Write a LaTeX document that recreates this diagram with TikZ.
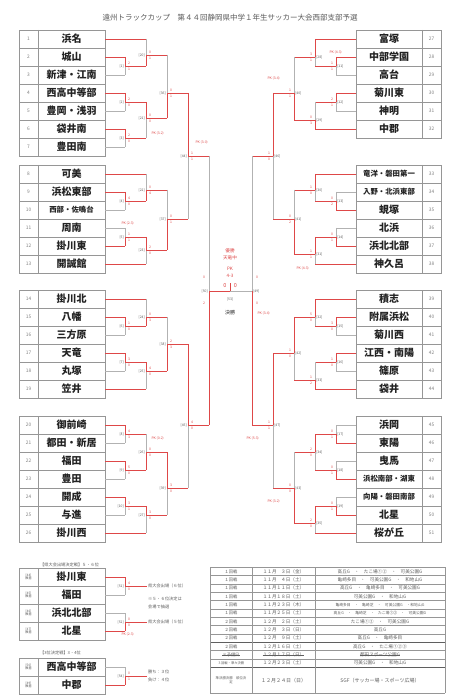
\documentclass[tikz,border=0pt]{standalone}
\usepackage{fontspec}
\setmainfont{Noto Sans CJK JP}
\definecolor{rd}{RGB}{222,72,72}
\definecolor{gy}{RGB}{178,178,178}
\definecolor{bd}{RGB}{150,150,150}
\definecolor{tx}{RGB}{35,35,35}
\definecolor{lb}{RGB}{90,90,90}
\definecolor{nm}{RGB}{130,130,130}
\definecolor{st}{RGB}{95,95,95}
\tikzset{
  rl/.style={draw=rd,line width=0.85pt},
  gl/.style={draw=gy,line width=0.85pt},
  bx/.style={draw=bd,line width=0.6pt},
  bxk/.style={draw=st,line width=1pt},
  lab/.style={font=\fontsize{3.4}{3.6}\selectfont,text=lb,inner sep=0.3pt},
  sc/.style={font=\fontsize{3.4}{3.6}\selectfont,text=rd,inner sep=0.3pt},
  team/.style={font=\fontsize{10}{11}\selectfont\bfseries,text=tx,inner sep=0pt},
  steam/.style={font=\fontsize{7.4}{8}\selectfont\bfseries,text=tx,inner sep=0pt},
  num/.style={font=\fontsize{4.8}{5}\selectfont,text=nm,inner sep=0pt},
  sml/.style={font=\fontsize{4.2}{5}\selectfont,text=st,inner sep=0pt},
  sch/.style={font=\fontsize{4.6}{5}\selectfont,text=st,inner sep=0pt},
  schs/.style={font=\fontsize{3.8}{4.2}\selectfont,text=st,inner sep=0pt},
  schA/.style={font=\fontsize{4.2}{5}\selectfont,text=st,inner sep=0pt},
  schB/.style={font=\fontsize{3.3}{4}\selectfont,text=st,inner sep=0pt},
  fin/.style={font=\fontsize{4.6}{5.2}\selectfont,text=rd,inner sep=0pt},
}
% left match: num, x, ytop, ybot, yexit, xnext, winner(t/b), score top, score bottom
\newcommand\LM[9]{%
  \coordinate (m#1t) at (#2,#3);
  \coordinate (m#1b) at (#2,#4);
  \coordinate (m#1) at (#2,#5);
  \coordinate (m#1n) at (#6,#5);
  \if#7t\draw[gl] (m#1) -- (m#1b); \draw[rl] (m#1t) -- (m#1);
  \else\draw[gl] (m#1t) -- (m#1); \draw[rl] (m#1) -- (m#1b);\fi
  \draw[rl] (m#1) -- (m#1n);
  \node[lab,anchor=east] (l#1) at ([xshift=-0.8pt]m#1) {[#1]};
  \node[sc,anchor=south west] (sa#1) at ([xshift=2.5pt,yshift=1.2pt]m#1) {#8};
  \node[sc,anchor=north west] (sb#1) at ([xshift=2.5pt,yshift=-1.4pt]m#1) {#9};
}
\newcommand\RM[9]{%
  \coordinate (m#1t) at (#2,#3);
  \coordinate (m#1b) at (#2,#4);
  \coordinate (m#1) at (#2,#5);
  \coordinate (m#1n) at (#6,#5);
  \if#7t\draw[gl] (m#1) -- (m#1b); \draw[rl] (m#1t) -- (m#1);
  \else\draw[gl] (m#1t) -- (m#1); \draw[rl] (m#1) -- (m#1b);\fi
  \draw[rl] (m#1) -- (m#1n);
  \node[lab,anchor=west] (l#1) at ([xshift=0.8pt]m#1) {[#1]};
  \node[sc,anchor=south east] (sa#1) at ([xshift=-2.5pt,yshift=1.2pt]m#1) {#8};
  \node[sc,anchor=north east] (sb#1) at ([xshift=-2.5pt,yshift=-1.4pt]m#1) {#9};
}
% team rows
\newcommand\TeamL[4]{%
  \node[#4] (t#1) at (71.5,#3) {#2};
  \node[num] (n#1) at (28.5,#3) {#1};
  \coordinate (p#1) at (105,#3);
}
\newcommand\TeamR[4]{%
  \node[#4] (t#1) at (389,#3) {#2};
  \node[num] (n#1) at (431.5,#3) {#1};
  \coordinate (p#1) at (356,#3);
}
\newcommand\TabL[2]{%
  \draw[bx] (19,#1) rectangle (105,{#1+18*#2});
  \draw[bx] (38,#1) -- (38,{#1+18*#2});
  \foreach \i in {1,...,#2} {\draw[bx] (19,{#1+18*\i}) -- (105,{#1+18*\i});}
}
\newcommand\TabR[2]{%
  \draw[bx] (356,#1) rectangle (441,{#1+18*#2});
  \draw[bx] (422,#1) -- (422,{#1+18*#2});
  \foreach \i in {1,...,#2} {\draw[bx] (356,{#1+18*\i}) -- (441,{#1+18*\i});}
}
\newcommand\PK[3]{\node[sc,anchor=west] (pk#1) at (#2,#3) {PK (#1)};}
\begin{document}
\begin{tikzpicture}[x=1pt,y=-1pt]
\useasboundingbox[fill=white] (0,0) rectangle (461,700);
\node[font=\fontsize{7.5}{8}\selectfont,text=lb] (title) at (230,18) {遠州トラックカップ　第４４回静岡県中学１年生サッカー大会西部支部予選};

% ---------- tables ----------
\TabL{30}{7}\TabL{165}{6}\TabL{290}{6}\TabL{416}{7}
\TabR{30}{6}\TabR{165}{6}\TabR{290}{6}\TabR{416}{7}

\TeamL{1}{浜名}{39}{team}
\TeamL{2}{城山}{57}{team}
\TeamL{3}{新津・江南}{75}{team}
\TeamL{4}{西高中等部}{93}{team}
\TeamL{5}{豊岡・浅羽}{111}{team}
\TeamL{6}{袋井南}{129}{team}
\TeamL{7}{豊田南}{147}{team}
\TeamL{8}{可美}{174}{team}
\TeamL{9}{浜松東部}{192}{team}
\TeamL{10}{西部・佐鳴台}{210}{steam}
\TeamL{11}{周南}{228}{team}
\TeamL{12}{掛川東}{246}{team}
\TeamL{13}{開誠館}{264}{team}
\TeamL{14}{掛川北}{299}{team}
\TeamL{15}{八幡}{317}{team}
\TeamL{16}{三方原}{335}{team}
\TeamL{17}{天竜}{353}{team}
\TeamL{18}{丸塚}{371}{team}
\TeamL{19}{笠井}{389}{team}
\TeamL{20}{御前崎}{425}{team}
\TeamL{21}{都田・新居}{443}{team}
\TeamL{22}{福田}{461}{team}
\TeamL{23}{豊田}{479}{team}
\TeamL{24}{開成}{497}{team}
\TeamL{25}{与進}{515}{team}
\TeamL{26}{掛川西}{533}{team}
\TeamR{27}{富塚}{39}{team}
\TeamR{28}{中部学園}{57}{team}
\TeamR{29}{高台}{75}{team}
\TeamR{30}{菊川東}{93}{team}
\TeamR{31}{神明}{111}{team}
\TeamR{32}{中郡}{129}{team}
\TeamR{33}{竜洋・磐田第一}{174}{steam}
\TeamR{34}{入野・北浜東部}{192}{steam}
\TeamR{35}{蜆塚}{210}{team}
\TeamR{36}{北浜}{228}{team}
\TeamR{37}{浜北北部}{246}{team}
\TeamR{38}{神久呂}{264}{team}
\TeamR{39}{積志}{299}{team}
\TeamR{40}{附属浜松}{317}{team}
\TeamR{41}{菊川西}{335}{team}
\TeamR{42}{江西・南陽}{353}{team}
\TeamR{43}{篠原}{371}{team}
\TeamR{44}{袋井}{389}{team}
\TeamR{45}{浜岡}{425}{team}
\TeamR{46}{東陽}{443}{team}
\TeamR{47}{曳馬}{461}{team}
\TeamR{48}{浜松南部・湖東}{479}{steam}
\TeamR{49}{向陽・磐田南部}{497}{steam}
\TeamR{50}{北星}{515}{team}
\TeamR{51}{桜が丘}{533}{team}

% ---------- left bracket ----------
\LM{1}{125}{57}{75}{66}{146}{t}{2}{1}
\LM{2}{125}{93}{111}{102}{146}{t}{2}{0}
\LM{3}{125}{129}{147}{138}{146}{t}{2}{0}
\LM{20}{146}{39}{66}{55}{167}{b}{0}{1}
\LM{21}{146}{102}{138}{118}{167}{t}{0}{0}
\LM{36}{167}{55}{118}{93}{188}{b}{0}{1}
\LM{4}{125}{192}{210}{201}{146}{t}{4}{0}
\LM{5}{125}{228}{246}{237}{146}{b}{1}{1}
\LM{22}{146}{174}{201}{190}{167}{b}{0}{4}
\LM{23}{146}{237}{264}{250}{167}{t}{2}{0}
\LM{37}{167}{190}{250}{219}{188}{b}{0}{1}
\LM{44}{188}{93}{219}{156}{209}{t}{1}{1}
\LM{6}{125}{317}{335}{326}{146}{t}{1}{0}
\LM{7}{125}{353}{371}{362}{146}{t}{3}{0}
\LM{24}{146}{299}{326}{317}{167}{b}{0}{3}
\LM{25}{146}{362}{389}{371}{167}{t}{4}{0}
\LM{38}{167}{317}{371}{344}{188}{b}{2}{3}
\LM{8}{125}{425}{443}{434}{146}{t}{4}{3}
\LM{9}{125}{461}{479}{470}{146}{t}{5}{0}
\LM{10}{125}{497}{515}{506}{146}{t}{3}{1}
\LM{26}{146}{434}{470}{452}{167}{b}{0}{0}
\LM{27}{146}{506}{533}{515}{167}{t}{3}{0}
\LM{39}{167}{452}{515}{488}{188}{t}{3}{0}
\LM{45}{188}{344}{488}{425}{209}{t}{4}{0}

% team lines left
\draw[rl] (p1) -- (m20t);
\draw[rl] (p2) -- (m1t);  \draw[gl] (p3) -- (m1b);
\draw[rl] (p4) -- (m2t);  \draw[gl] (p5) -- (m2b);
\draw[rl] (p6) -- (m3t);  \draw[gl] (p7) -- (m3b);
\draw[rl] (p8) -- (m22t);
\draw[rl] (p9) -- (m4t);  \draw[gl] (p10) -- (m4b);
\draw[gl] (p11) -- (m5t); \draw[rl] (p12) -- (m5b);
\draw[rl] (p13) -- (m23b);
\draw[rl] (p14) -- (m24t);
\draw[rl] (p15) -- (m6t); \draw[gl] (p16) -- (m6b);
\draw[rl] (p17) -- (m7t); \draw[gl] (p18) -- (m7b);
\draw[rl] (p19) -- (m25b);
\draw[rl] (p20) -- (m8t); \draw[gl] (p21) -- (m8b);
\draw[rl] (p22) -- (m9t); \draw[gl] (p23) -- (m9b);
\draw[rl] (p24) -- (m10t); \draw[gl] (p25) -- (m10b);
\draw[rl] (p26) -- (m27b);

% ---------- right bracket ----------
\RM{11}{336}{57}{75}{66}{315}{t}{1}{1}
\RM{12}{336}{93}{111}{102}{315}{t}{2}{1}
\RM{28}{315}{39}{66}{57}{294}{t}{3}{1}
\RM{29}{315}{102}{129}{120}{294}{b}{0}{3}
\RM{40}{294}{57}{120}{93}{273}{b}{1}{1}
\RM{13}{336}{192}{210}{201}{315}{b}{0}{2}
\RM{14}{336}{228}{246}{237}{315}{b}{0}{1}
\RM{30}{315}{174}{201}{190}{294}{t}{1}{0}
\RM{31}{315}{237}{264}{254}{294}{t}{1}{1}
\RM{41}{294}{190}{254}{219}{273}{b}{0}{2}
\RM{46}{273}{93}{219}{156}{252}{t}{1}{0}
\RM{15}{336}{317}{335}{326}{315}{t}{3}{0}
\RM{16}{336}{353}{371}{362}{315}{t}{1}{0}
\RM{32}{315}{299}{326}{317}{294}{t}{5}{0}
\RM{33}{315}{362}{389}{380}{294}{b}{1}{2}
\RM{42}{294}{317}{380}{353}{273}{t}{1}{0}
\RM{17}{336}{425}{443}{434}{315}{b}{0}{1}
\RM{18}{336}{461}{479}{470}{315}{b}{0}{1}
\RM{19}{336}{497}{515}{506}{315}{b}{0}{1}
\RM{34}{315}{434}{470}{452}{294}{t}{2}{0}
\RM{35}{315}{506}{533}{523}{294}{t}{2}{0}
\RM{43}{294}{452}{523}{488}{273}{b}{0}{0}
\RM{47}{273}{353}{488}{425}{252}{t}{1}{1}

% team lines right
\draw[rl] (p27) -- (m28t);
\draw[rl] (p28) -- (m11t); \draw[gl] (p29) -- (m11b);
\draw[rl] (p30) -- (m12t); \draw[gl] (p31) -- (m12b);
\draw[rl] (p32) -- (m29b);
\draw[rl] (p33) -- (m30t);
\draw[gl] (p34) -- (m13t); \draw[rl] (p35) -- (m13b);
\draw[gl] (p36) -- (m14t); \draw[rl] (p37) -- (m14b);
\draw[rl] (p38) -- (m31b);
\draw[rl] (p39) -- (m32t);
\draw[rl] (p40) -- (m15t); \draw[gl] (p41) -- (m15b);
\draw[rl] (p42) -- (m16t); \draw[gl] (p43) -- (m16b);
\draw[rl] (p44) -- (m33b);
\draw[gl] (p45) -- (m17t); \draw[rl] (p46) -- (m17b);
\draw[gl] (p47) -- (m18t); \draw[rl] (p48) -- (m18b);
\draw[gl] (p49) -- (m19t); \draw[rl] (p50) -- (m19b);
\draw[rl] (p51) -- (m35b);

% PK notes
\PK{3-2}{151}{133}
\PK{3-0}{195}{142}
\PK{2-3}{121}{223}
\PK{0-2}{151}{438}
\node[sc,anchor=west] (pkA) at (329,52) {PK (4-3)};
\node[sc,anchor=west] (pkB) at (267,78) {PK (3-4)};
\node[sc,anchor=west] (pkC) at (296,268) {PK (4-3)};
\node[sc,anchor=west] (pkD) at (246,438) {PK (5-3)};
\node[sc,anchor=west] (pkE) at (267,501) {PK (3-2)};
\node[sc,anchor=west] (pkF) at (257,313) {PK (3-4)};

% ---------- semifinals and final ----------
\coordinate (fin) at (230,291);
\coordinate (fint) at (230,283);
\coordinate (sL) at (209,291);
\coordinate (sR) at (252,291);
\draw[gl] (m44n) -- (sL); \draw[rl] (sL) -- (m45n); \draw[rl] (sL) -- (fin);
\draw[gl] (m46n) -- (sR); \draw[rl] (sR) -- (m47n); \draw[gl] (sR) -- (fin);
\draw[rl] (fin) -- (fint);
\node[lab,anchor=east] (l50) at (208.2,291) {[50]};
\node[sc] (s50a) at (204,277) {0};
\node[sc] (s50b) at (204,303) {2};
\node[lab,anchor=west] (l49) at (252.8,291) {[49]};
\node[sc] (s49a) at (257,277) {0};
\node[sc] (s49b) at (257,303) {0};
\node[fin] (champ1) at (230,251) {優勝};
\node[fin] (champ2) at (230,258) {天竜中};
\node[fin] (pkfin1) at (230,269) {PK};
\node[fin] (pkfin2) at (230,276) {4-3};
\node[fin,font=\fontsize{5.5}{6}\selectfont] (f0a) at (225,286) {0};
\node[fin,font=\fontsize{5.5}{6}\selectfont] (f0b) at (235.5,286) {0};
\node[lab] (l53) at (230,299) {[53]};
\node[font=\fontsize{5}{6}\selectfont,text=tx,inner sep=0pt] (kessho) at (230,313) {決勝};

% ---------- 5-6 place ----------
\node[sml,anchor=west] (h56) at (40,565) {【県大会出場決定戦】５・６位};
\draw[bx] (19,568) rectangle (105,640);
\draw[bx] (38,568) -- (38,640);
\foreach \i in {1,2,3} {\draw[bx] (19,{568+18*\i}) -- (105,{568+18*\i});}
\foreach \n/\name/\y/\q in {a/掛川東/577/44, b/福田/595/45, c/浜北北部/613/46, d/北星/631/47} {
  \node[team] (u\n) at (71.5,\y) {\name};
  \node[lab,align=center,font=\fontsize{3.2}{3.6}\selectfont] (uq\n) at (28.5,\y) {[\q]\\敗者};
  \coordinate (up\n) at (105,\y);
}
\LM{51}{125}{577}{595}{586}{147}{t}{4}{0}
\LM{52}{125}{613}{631}{622}{147}{b}{0}{0}
\draw[rl] (upa) -- (m51t); \draw[gl] (upb) -- (m51b);
\draw[gl] (upc) -- (m52t); \draw[rl] (upd) -- (m52b);
\node[sc,anchor=west] (pkG) at (121,634) {PK (2-3)};
\node[sml,anchor=west] (r6) at (148,586) {県大会出場（６位）};
\node[sml,anchor=west] (note1) at (148,599) {※５・６位決定は};
\node[sml,anchor=west] (note2) at (148,607) {会場で抽選};
\node[sml,anchor=west] (r5) at (148,622) {県大会出場（５位）};

% ---------- 3rd place ----------
\node[sml,anchor=west] (h34) at (40,653) {【3位決定戦】3・4位};
\draw[bx] (19,658) rectangle (105,694);
\draw[bx] (38,658) -- (38,694);
\draw[bx] (19,676) -- (105,676);
\foreach \n/\name/\y/\q in {e/西高中等部/667/50, f/中郡/685/49} {
  \node[team] (u\n) at (71.5,\y) {\name};
  \node[lab,align=center,font=\fontsize{3.2}{3.6}\selectfont] (uq\n) at (28.5,\y) {[\q]\\敗者};
  \coordinate (up\n) at (105,\y);
}
\LM{54}{125}{667}{685}{676}{147}{b}{0}{1}
\draw[gl] (upe) -- (m54t); \draw[rl] (upf) -- (m54b);
\node[sml,anchor=west] (w3) at (148,672) {勝ち：３位};
\node[sml,anchor=west] (w4) at (148,680) {負け：４位};

% ---------- schedule ----------
\foreach \y in {567.3,575.7,584,592.3,600.7,609,617.3,625.7,634,650.7,659,693.3} {\draw[bx] (210,\y) -- (445,\y);}
\draw[bxk] (210,642.3) -- (445,642.3);
\draw[bxk] (210,667.3) -- (445,667.3);
\foreach \x in {210,252,315,445} {\draw[bx] (\x,567.3) -- (\x,693.3);}
\foreach \i/\y/\a/\b/\c/\s/\f in {
  1/571.5/１回戦/１１月　３日（金）/高丘G　・　たこ場①②　・　可美公園G/sch/schA,
  2/579.8/１回戦/１１月　４日（土）/亀崎多目　・　可美公園G　・　和地山G/sch/schA,
  3/588.2/１回戦/１１月１１日（土）/高丘G　・　亀崎多目　・　可美公園G/sch/schA,
  4/596.5/１回戦/１１月１８日（土）/可美公園G　・　和地山G/sch/schA,
  5/604.8/１回戦/１１月２３日（木）/亀崎多目　・　亀崎芝　・　可美公園G　・和地山G/schs/schA,
  6/613.2/１回戦/１１月２５日（土）/高丘G　・　亀崎芝　・　たこ場①②　・　可美公園G/schs/schA,
  7/621.5/２回戦/１２月　２日（土）/たこ場①②　・　可美公園G/sch/schA,
  8/629.8/２回戦/１２月　３日（日）/高丘G/sch/schA,
  9/638.2/２回戦/１２月　９日（土）/高丘G　・　亀崎多目/sch/schA,
  10/646.5/２回戦/１２月１６日（土）/高丘G　・　たこ場①②③/sch/schA,
  11/654.8/※予備日/１２月１７日（日）/都田スポーツ公園G/sch/schA,
  12/663.2/３回戦・準々決勝/１２月２３日（土）/可美公園G　・　和地山G/sch/schB} {
  \node[\f] (c\i a) at (231,\y) {\a};
  \node[sch] (c\i b) at (283.5,\y) {\b};
  \node[\s] (c\i c) at (380,\y) {\c};
}
\draw[st,line width=0.4pt] (c11a.west) -- (c11a.east);
\draw[st,line width=0.4pt] (c11b.west) -- (c11b.east);
\draw[st,line width=0.4pt] (c11c.west) -- (c11c.east);
\node[schB,font=\fontsize{3.4}{4.6}\selectfont,align=center] (c13a) at (231,680.3) {準決勝決勝　順位決\\定};
\node[sch,font=\fontsize{5}{6}\selectfont] (c13b) at (283.5,680.3) {１２月２４日（日）};
\node[sch,font=\fontsize{5}{6}\selectfont] (c13c) at (380,680.3) {SGF（サッカー場・スポーツ広場）};
\end{tikzpicture}
\end{document}
